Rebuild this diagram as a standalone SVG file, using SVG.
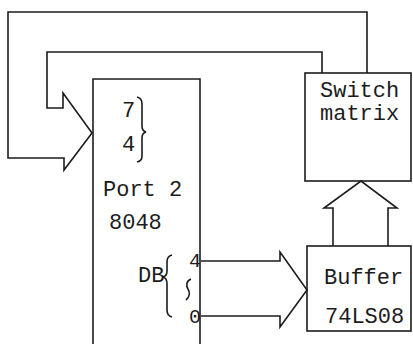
<svg xmlns="http://www.w3.org/2000/svg" width="413" height="344" viewBox="0 0 413 344">
<style>
.ln{fill:none;stroke:#1c1c1c;stroke-width:1.6;stroke-linejoin:miter}
.t{font-family:"Liberation Mono","DejaVu Sans Mono",monospace;font-size:22px;fill:#1c1c1c}
.s{font-size:20px}
</style>
<rect width="413" height="344" fill="#ffffff"/>
<g id="connectors">
<path class="ln" d="M367,73 V12 H8 V158 H64 V170 L92,133 L63,93 V108 H47 V52 H322 V73"/>
<path class="ln" d="M201,261 H280 V252 L307,290 L280,327 V316 H201"/>
<path class="ln" d="M333,246 V208 H324 L361,181 L397,208 H388 V246"/>
</g>
<g id="port2">
<path class="ln" d="M93,344 V79 H200 V344"/>
<text class="t" x="122" y="117">7</text>
<text class="t" x="122" y="151">4</text>
<path class="ln" d="M137,97 Q142,98 142,104 V126 Q142,131 146,132 Q142,133 142,138 V156 Q142,161 137,162"/>
<text class="t" x="103" y="196">Port 2</text>
<text class="t" x="109" y="229">8048</text>
<text class="t" x="138" y="282">DB</text>
<path class="ln" d="M172,255 Q167,256 167,262 V271 Q167,276 163,277 Q167,278 167,284 V310 Q167,316 172,317"/>
<text class="t s" x="189" y="267">4</text>
<path class="ln" d="M191,279 C186,281 186,286 188,289 C190,292 190,297 186,300"/>
<text class="t s" x="189" y="323">0</text>
</g>
<g id="switch-matrix">
<rect class="ln" x="305" y="73" width="106" height="108"/>
<text class="t" x="320" y="97">Switch</text>
<text class="t" x="320" y="120">matrix</text>
</g>
<g id="buffer">
<rect class="ln" x="307" y="246" width="104" height="85"/>
<text class="t" x="324" y="284">Buffer</text>
<text class="t" x="325" y="323">74LS08</text>
</g>
</svg>
